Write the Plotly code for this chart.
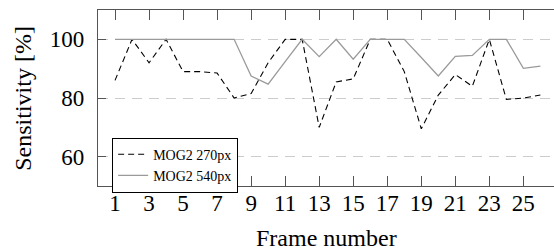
import plotly.graph_objects as go

frames = list(range(1, 27))
mog2_270 = [86, 100, 92, 100, 89, 89, 88.5, 80, 81.5, 92, 100, 100, 70, 85.5,
            86.5, 100, 100, 89, 69.5, 81, 88, 84, 100, 79.5, 80, 81]
mog2_540 = [100, 100, 100, 100, 100, 100, 100, 100, 87.5, 84.7, 92.4, 100, 94.1,
            100, 93.2, 100, 100, 100, 93.8, 87.5, 94.2, 94.5, 100, 100, 90.1, 90.9]
x_ticks = list(range(1, 27, 2))
y_ticks = [60, 80, 100]

FONT = "Liberation Serif, Times New Roman, serif"
AX = "#555555"

fig = go.Figure()
fig.add_trace(go.Scatter(x=frames, y=mog2_270, mode="lines", name="MOG2 270px",
                         line=dict(color="black", width=1.1, dash="6px,4px")))
fig.add_trace(go.Scatter(x=frames, y=mog2_540, mode="lines", name="MOG2 540px",
                         line=dict(color="#9a9a9a", width=1.3)))

fig.update_layout(
    width=554, height=250,
    margin=dict(l=98, r=0, t=10, b=64),
    paper_bgcolor="white", plot_bgcolor="white",
    font=dict(family=FONT, color="black", size=23),
    showlegend=True,
    legend=dict(x=0.031, y=0.275, xanchor="left", yanchor="top",
                bgcolor="white", bordercolor="black", borderwidth=1,
                font=dict(family=FONT, size=14, color="black"),
                tracegroupgap=0, itemwidth=30),
    xaxis=dict(range=[0, 26.8], tickvals=x_ticks, ticktext=[str(v) for v in x_ticks],
               showgrid=False, zeroline=False,
               showline=True, linecolor=AX, linewidth=1.4, mirror="allticks",
               ticks="inside", ticklen=10, tickwidth=1.2, tickcolor=AX,
               ticklabelstandoff=-4,
               tickfont=dict(family=FONT, size=23)),
    yaxis=dict(range=[50, 110], tickvals=y_ticks, ticktext=[str(v) for v in y_ticks],
               showgrid=True, gridcolor="#cccccc", gridwidth=1, griddash="10px,7px",
               zeroline=False,
               showline=True, linecolor=AX, linewidth=1.4, mirror=False,
               ticks="inside", ticklen=8, tickwidth=1.2, tickcolor=AX,
               ticklabelstandoff=8,
               tickfont=dict(family=FONT, size=23)),
    annotations=[
        dict(text="Frame number", xref="paper", yref="paper", x=0.5, y=-0.295,
             xanchor="center", yanchor="middle", showarrow=False,
             font=dict(family=FONT, size=24)),
        dict(text="Sensitivity [%]", xref="paper", yref="paper", x=-0.165, y=0.5,
             xanchor="center", yanchor="middle", showarrow=False, textangle=-90,
             font=dict(family=FONT, size=24)),
    ],
)

fig.write_html("out.html", config={"displayModeBar": False},
               post_script="document.body.style.margin='0';document.body.style.padding='0';document.body.style.overflow='hidden';")
